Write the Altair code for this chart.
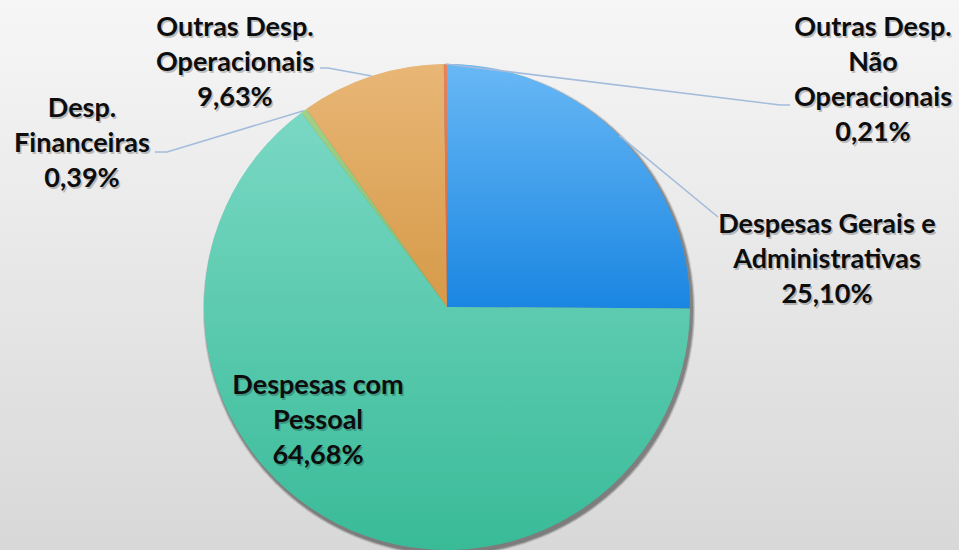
import math
import altair as alt
import pandas as pd

# ---- data ----
categories = [
    "Despesas Gerais e Administrativas",
    "Despesas com Pessoal",
    "Desp. Financeiras",
    "Outras Desp. Operacionais",
    "Outras Desp. Não Operacionais",
]
values = [25.10, 64.68, 0.39, 9.63, 0.21]
pct_labels = ["25,10%", "64,68%", "0,39%", "9,63%", "0,21%"]
label_names = [
    "Despesas Gerais e\nAdministrativas",
    "Despesas com\nPessoal",
    "Desp.\nFinanceiras",
    "Outras Desp.\nOperacionais",
    "Outras Desp.\nNão\nOperacionais",
]

# ---- styles / layout ----
grad_top = ["#68b8f5", "#7ad8c4", "#a0d288", "#e8b676", "#e8845c"]
grad_bottom = ["#1a86e2", "#39bb98", "#7cc06a", "#d69a48", "#d8603c"]
W, H = 959, 550
CX, CY, R = 447, 307, 243
# (center x, first-line y) of each label
label_pos = [(827, 225), (318, 386), (82, 109), (235, 28), (873, 28)]
leader_elbow = [(718, 217), None, (167, 152), (328, 68), (780, 105)]
leader_end = [(718, 217), None, (155, 152), (320, 68), (790, 105)]

total = sum(values)
starts, ends = [], []
acc = 0.0
for v in values:
    starts.append(acc / total)
    acc += v
    ends.append(acc / total)

df = pd.DataFrame({
    "category": categories,
    "value": values,
    "start": starts,
    "end": ends,
    "label": [n + "\n" + p for n, p in zip(label_names, pct_labels)],
    "lx": [p[0] for p in label_pos],
    "ly": [p[1] for p in label_pos],
})

# leader lines: from slice edge (mid-angle) to the label
rows = []
for i, c in enumerate(categories):
    if leader_end[i] is None:
        continue
    mid = (starts[i] + ends[i]) / 2 * 2 * math.pi
    ex = CX + R * math.sin(mid)
    ey = CY - R * math.cos(mid)
    pts = [(ex, ey), leader_elbow[i], leader_end[i]]
    for k, (px, py) in enumerate(pts):
        rows.append({"category": c, "o": k, "px": px, "py": py})
leaders = pd.DataFrame(rows)

theta_scale = alt.Scale(domain=[0, 1], range=[0, 2 * math.pi])

bg = alt.Chart(df).mark_rect(
    color=alt.LinearGradient(
        gradient="linear", x1=0, y1=0, x2=0, y2=1,
        stops=[alt.GradientStop(color="#f6f6f6", offset=0),
               alt.GradientStop(color="#d8d8d8", offset=1)],
    )
).encode(x=alt.value(0), x2=alt.value(W), y=alt.value(0), y2=alt.value(H))

shadows = []
for dr, op in [(3, 0.025), (2, 0.035), (1, 0.045)]:
    shadows.append(
        alt.Chart(df).mark_arc(color="#000000", opacity=op, outerRadius=R + dr).encode(
            theta=alt.value(0), theta2=alt.value(2 * math.pi),
            x=alt.value(CX + 2), y=alt.value(CY + 3),
        )
    )

arcs = []
for i, c in enumerate(categories):
    arcs.append(
        alt.Chart(df).transform_filter(alt.datum.category == c).mark_arc(
            outerRadius=R,
            color=alt.LinearGradient(
                gradient="linear", x1=0, y1=0, x2=0, y2=1,
                stops=[alt.GradientStop(color=grad_top[i], offset=0),
                       alt.GradientStop(color=grad_bottom[i], offset=1)],
            ),
        ).encode(
            theta=alt.Theta("start:Q", scale=theta_scale),
            theta2="end:Q",
            x=alt.value(CX), y=alt.value(CY),
        )
    )

lines = alt.Chart(leaders).mark_line(color="#a3bcdc", strokeWidth=1.6).encode(
    x=alt.X("px:Q", scale=None),
    y=alt.Y("py:Q", scale=None),
    detail="category:N",
    order="o:Q",
)

text_common = dict(font="Lato", fontWeight="bold", fontSize=27, lineHeight=35,
                   lineBreak="\n", align="center", baseline="middle")
text_shadow = alt.Chart(df).mark_text(color="#000000", opacity=0.22, dx=1.5, dy=2,
                                      **text_common).encode(
    x=alt.X("lx:Q", scale=None), y=alt.Y("ly:Q", scale=None), text="label:N")
text = alt.Chart(df).mark_text(color="#0d0d0d", **text_common).encode(
    x=alt.X("lx:Q", scale=None), y=alt.Y("ly:Q", scale=None), text="label:N")

chart = alt.layer(bg, *shadows, *arcs, lines, text_shadow, text).properties(
    width=W, height=H, autosize="none", padding=0, background="#e6e6e6"
).configure_view(stroke=None)

chart.save("out.html", embed_options={"renderer": "svg", "actions": False})
